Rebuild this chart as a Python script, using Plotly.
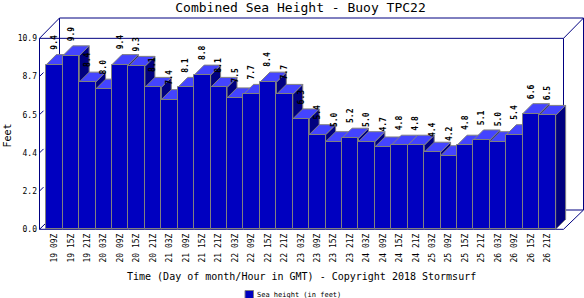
import plotly.graph_objects as go

# ---------------- data ----------------
categories = ["19 09Z", "19 15Z", "19 21Z", "20 03Z", "20 09Z", "20 15Z", "20 21Z",
              "21 03Z", "21 09Z", "21 15Z", "21 21Z", "22 03Z", "22 09Z", "22 15Z",
              "22 21Z", "23 03Z", "23 09Z", "23 15Z", "23 21Z", "24 03Z", "24 09Z",
              "24 15Z", "24 21Z", "25 03Z", "25 09Z", "25 15Z", "25 21Z", "26 03Z",
              "26 09Z", "26 15Z", "26 21Z"]
sea_height = [9.4, 9.9, 8.4, 8.0, 9.4, 9.3, 8.1, 7.4, 8.1, 8.8, 8.1, 7.5, 7.7, 8.4,
              7.7, 6.3, 5.4, 5.0, 5.2, 5.0, 4.7, 4.8, 4.8, 4.4, 4.2, 4.8, 5.1, 5.0,
              5.4, 6.6, 6.5]
y_tick_vals = [0.0, 2.18, 4.36, 6.54, 8.72, 10.9]
y_tick_text = ["0.0", "2.2", "4.4", "6.5", "8.7", "10.9"]

title_text = "Combined Sea Height - Buoy TPC22"
x_title = "Time (Day of month/Hour in GMT) - Copyright 2018 Stormsurf"
y_title = "Feet"
series_name = "Sea height (in feet)"

# ---------------- styling / geometry ----------------
W, H = 584, 298
L, T = 38, 17
PW, PH = 546, 214
PXX = 16.43          # px per category
PXY = 17.52          # px per foot
BAR_LEFT_PX = 46.3
ZERO_PX = 229.3

FRONT = "#0000C0"
TOP = "#4444FF"
SIDE = "#000080"
EDGE = "#808080"
BOX = "#000080"
FONT = "DejaVu Sans Mono"

x_lo = -0.5 - (BAR_LEFT_PX - L) / PXX
x_hi = x_lo + PW / PXX
y_lo = -(T + PH - ZERO_PX) / PXY
y_hi = (ZERO_PX - T) / PXY


def xd(px):
    return x_lo + (px - L) / PXX


def yd(py):
    return (ZERO_PX - py) / PXY


def xp(px):  # pixel -> paper x
    return (px - L) / PW


def yp(py):  # pixel -> paper y
    return (T + PH - py) / PH


ymax = y_tick_vals[-1]
n = len(sea_height)
idx = list(range(n))

# box corners
fl, fr = xd(39.5), xd(563.5)
bl, br = xd(59.5), xd(583.5)
ft, fb = ymax, 0.0
bt, bb = yd(18), yd(210)

shapes = []


def line(x0, y0, x1, y1):
    shapes.append(dict(type="line", xref="x", yref="y", x0=x0, y0=y0, x1=x1, y1=y1,
                       line=dict(color=BOX, width=1), layer="below"))


# back wall
line(bl, bt, br, bt)
line(br, bt, br, bb)
line(bl, bt, bl, bb)
line(bl, bb, br, bb)
# front frame
line(fl, ft, fr, ft)
line(fl, ft, fl, fb)
line(fl, fb, fr, fb)
line(fr, ft, fr, bb)
# depth diagonals
line(fl, ft, bl, bt)
line(fr, ft, br, bt)
line(fl, fb, bl, bb)
line(fr, fb, br, bb)
# y tick marks (3D)
for tv in y_tick_vals[1:-1]:
    line(fl, tv, fl + 4 / PXX, tv + 4 / PXY)

# bar top and side faces
bdx, bdy = 10 / PXX, 10 / PXY
for i, v in zip(idx, sea_height):
    xl, xr = i - 0.5, i + 0.5
    shapes.append(dict(type="path", xref="x", yref="y", layer="below",
                       path=f"M{xr},{0} L{xr},{v} L{xr+bdx},{v+bdy} L{xr+bdx},{bdy} Z",
                       fillcolor=SIDE, line=dict(color=EDGE, width=1)))
    shapes.append(dict(type="path", xref="x", yref="y", layer="below",
                       path=f"M{xl},{v} L{xr},{v} L{xr+bdx},{v+bdy} L{xl+bdx},{v+bdy} Z",
                       fillcolor=TOP, line=dict(color=EDGE, width=1)))

# legend swatch (manual)
shapes.append(dict(type="rect", xref="paper", yref="paper",
                   x0=xp(245), x1=xp(253.5), y0=yp(298.5), y1=yp(290.5),
                   fillcolor=FRONT, line=dict(color=EDGE, width=1), layer="above"))

fig = go.Figure()
fig.add_trace(go.Bar(x=idx, y=sea_height, width=1, name=series_name,
                     marker=dict(color=FRONT, line=dict(color=EDGE, width=1)),
                     showlegend=False, hoverinfo="x+y"))

annotations = []
for i, v in zip(idx, sea_height):
    annotations.append(dict(x=i, y=v, xref="x", yref="y", text=f"{v:.1f}",
                            textangle=-90, showarrow=False, xanchor="center",
                            yanchor="bottom", yshift=13,
                            font=dict(family=FONT, size=8, color="black", weight="bold")))

annotations.append(dict(x=xd(301), y=yp(276), xref="x", yref="paper", text=x_title,
                        showarrow=False, xanchor="center", yanchor="middle",
                        font=dict(family=FONT, size=10, color="black")))
annotations.append(dict(x=xp(6.5), y=yp(136), xref="paper", yref="paper", text=y_title,
                        textangle=-90, showarrow=False, xanchor="center", yanchor="middle",
                        font=dict(family=FONT, size=10, color="black")))
annotations.append(dict(x=xp(255), y=yp(294.5), xref="paper", yref="paper",
                        text=series_name, showarrow=False, xanchor="left", yanchor="middle",
                        font=dict(family=FONT, size=7, color="black")))

fig.update_layout(
    width=W, height=H,
    margin=dict(l=L, r=W - L - PW, t=T, b=H - T - PH, pad=0),
    paper_bgcolor="white", plot_bgcolor="white",
    title=dict(text=title_text, x=300.5 / W, xanchor="center", xref="container",
               y=1 - 7 / H, yanchor="middle", yref="container",
               font=dict(family=FONT, size=13, color="black")),
    xaxis=dict(range=[x_lo, x_hi], tickvals=idx, ticktext=categories, tickangle=-90,
               showgrid=False, zeroline=False, showline=False, ticks="",
               tickfont=dict(family=FONT, size=8, color="black"), fixedrange=True),
    yaxis=dict(range=[y_lo, y_hi], tickvals=y_tick_vals, ticktext=y_tick_text,
               showgrid=False, zeroline=False, showline=False, ticks="",
               tickfont=dict(family=FONT, size=8, color="black"), fixedrange=True),
    shapes=shapes,
    annotations=annotations,
    showlegend=False,
    bargap=0,
)

fig.write_html("out.html")
